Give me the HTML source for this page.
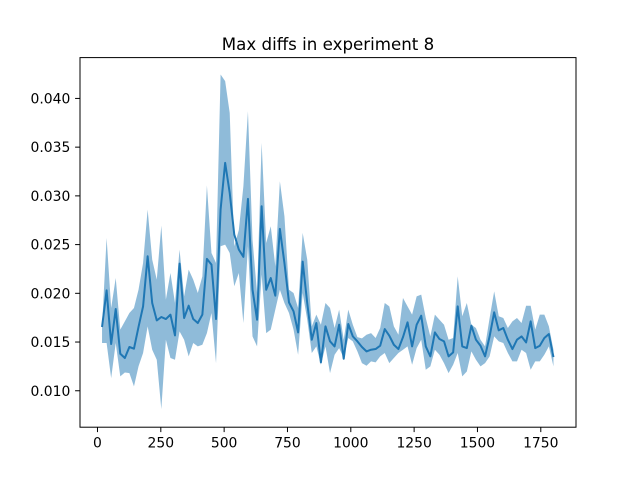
<!DOCTYPE html>
<html><head><meta charset="utf-8"><style>
body{margin:0;background:#fff}
svg text{font-family:"DejaVu Sans","Liberation Sans",sans-serif}
</style></head><body>
<svg id="chart" width="640" height="480" xmlns="http://www.w3.org/2000/svg">
<rect width="640" height="480" fill="#fff"/>
<text x="328" y="50" font-size="16.67" text-anchor="middle">Max diffs in experiment 8</text>
<g id="plot"></g>
</svg>
<script>
const meanVals=[.01654,.0203,.0148,.01839,.0138,.01336,.01449,.01432,.01655,.01866,.0238,.01901,.01722,.01757,.01736,.01781,.01568,.02305,.01747,.01873,.01736,.01695,.01781,.02353,.02295,.01736,.0286,.03339,.03031,.02603,.02449,.02374,
.02969,.02037,.01729,.02893,.02037,.02157,.01976,.02661,.02311,.01907,.01815,.01599,.02325,.019,.01524,.01695,.01291,.01661,.01507,.01455,.01678,.01329,.01685,.01558,.01507,.01449,.01404,.01421,.01428,.01462,.01633,.01565,.01472,.01428,
.0155,.01702,.01455,.01678,.0177,.01455,.01353,.01599,.01531,.01507,.01353,.01394,.01866,.01455,.01438,.01668,.01524,.01462,.01353,.01558,.01805,.0162,.01644,.01524,.01428,.01524,.01558,.01496,.01712,.01438,.01462,.01541,.01582,.01346];
const upperVals=[.01661,.02568,.01849,.02157,.01627,.01712,.01798,.01849,.02037,.02311,.02859,.02346,.0214,.02695,.01935,.02209,.019,.02448,.01969,.02243,.0214,.02003,.02174,.03106,.02414,.02311,.04246,.04177,.03852,.02483,.0265,.03099,
.03869,.02551,.02003,.03544,.02517,.02688,.02277,.0315,.02791,.02037,.02003,.01849,.0262,.02346,.01661,.01781,.01678,.019,.01849,.01644,.01832,.01524,.01832,.01678,.01551,.01538,.01575,.01592,.01541,.01644,.019,.01866,.01661,.01575,
.01952,.01866,.01781,.01969,.01986,.01746,.01558,.01781,.01729,.01678,.01524,.01541,.02174,.01764,.01901,.01678,.01644,.01524,.01455,.01746,.0202,.01764,.01746,.01644,.01712,.01746,.01695,.01873,.01873,.01627,.01781,.01781,.01661,.01421];
const lowerVals=[.0149,.0149,.0113,.0149,.01147,.01188,.01181,.01045,.0125,.01387,.01661,.01421,.01318,.00812,.01524,.01336,.01318,.0161,.01524,.01353,.0149,.01455,.01472,.01592,.01798,.01284,.02483,.025,.02414,.02072,.02209,.01695,
.02483,.01558,.01455,.02192,.01592,.01627,.01832,.02037,.019,.01798,.01627,.0137,.02003,.01729,.01387,.01455,.01267,.01455,.01181,.0137,.01438,.01336,.01541,.01507,.01404,.01284,.01257,.01301,.01291,.01353,.01387,.01284,.01336,.01387,
.01421,.01455,.01267,.01438,.01524,.01216,.0125,.01421,.0137,.01284,.01181,.01267,.01387,.01147,.01198,.01404,.01318,.0125,.01284,.01353,.01558,.01507,.0149,.01387,.01301,.01301,.01421,.01387,.01216,.01301,.01301,.0137,.01455,.0125];
const xStep=18;
const xTicks=[0,250,500,750,1000,1250,1500,1750];
const yTicks=[0.010,0.015,0.020,0.025,0.030,0.035,0.040];
const L=80,R=576,T=57.6,B=427.2;
const xMin=-69,xMax=1889,yMin=0.00626,yMax=0.04419;
const X=v=>L+(v-xMin)/(xMax-xMin)*(R-L);
const Y=v=>B-(v-yMin)/(yMax-yMin)*(B-T);
const NS="http://www.w3.org/2000/svg";
const g=document.getElementById('plot');
function mk(t,a){const e=document.createElementNS(NS,t);for(const k in a)e.setAttribute(k,a[k]);g.appendChild(e);return e;}
const xs=meanVals.map((_,i)=>(i+1)*xStep);
let d=xs.map((x,i)=>(i?'L':'M')+X(x).toFixed(2)+','+Y(upperVals[i]).toFixed(2)).join('');
for(let i=xs.length-1;i>=0;i--)d+='L'+X(xs[i]).toFixed(2)+','+Y(lowerVals[i]).toFixed(2);
const band=mk('path',{d:d+'Z',fill:'#1f77b4','fill-opacity':0.5,stroke:'none'});


const line=mk('path',{d:xs.map((x,i)=>(i?'L':'M')+X(x).toFixed(2)+','+Y(meanVals[i]).toFixed(2)).join(''),fill:'none',stroke:'#1f77b4','stroke-width':2,'stroke-linejoin':'round'});


const fr=mk('rect',{x:L,y:T,width:R-L,height:B-T,fill:'none',stroke:'#000','stroke-width':1});


xTicks.forEach(t=>{
 const tk=mk('line',{x1:X(t),x2:X(t),y1:B,y2:B+4.9,stroke:'#000','stroke-width':1});
 
 
 const tx=mk('text',{x:X(t),y:B+20.5,'font-size':13.9,'text-anchor':'middle'});
 tx.textContent=t;
 
 
});
yTicks.forEach(t=>{
 const tk=mk('line',{x1:L-4.9,x2:L,y1:Y(t),y2:Y(t),stroke:'#000','stroke-width':1});
 
 
 const tx=mk('text',{x:L-9.7,y:Y(t)+5,'font-size':13.9,'text-anchor':'end'});
 tx.textContent=t.toFixed(3);
 
 
});
</script>
</body></html>
